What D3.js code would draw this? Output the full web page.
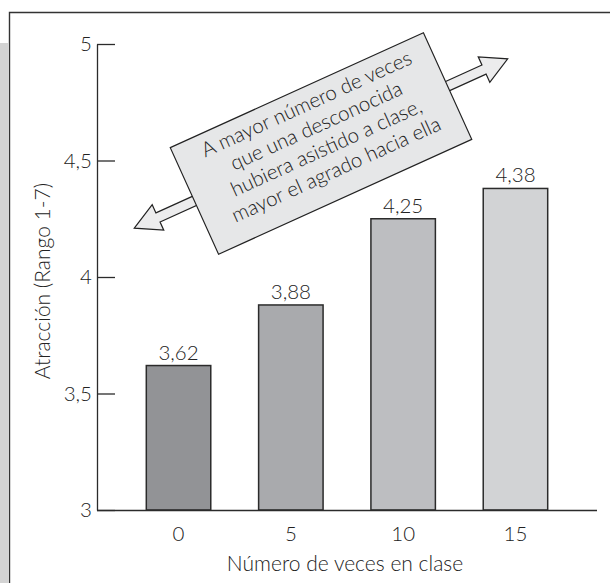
<!DOCTYPE html>
<html>
<head>
<meta charset="utf-8">
<script src="https://cdn.jsdelivr.net/npm/d3@7"></script>
<style>
  body { margin: 0; background: #fff; }
  svg { display: block; }
  text { font-family: Lato, "Open Sans", sans-serif; font-weight: 300; fill: #222; }
</style>
</head>
<body>
<div id="chart"></div>
<script>
// datos
const categories = ["0", "5", "10", "15"];
const values = [3.62, 3.88, 4.25, 4.38];
const valueLabels = ["3,62", "3,88", "4,25", "4,38"];
const barColors = ["#929396", "#a9aaad", "#bdbec1", "#d2d3d5"];
const yTicks = [3, 3.5, 4, 4.5, 5];
const yTickLabels = ["3", "3,5", "4", "4,5", "5"];
const noteLines = [
  "A mayor número de veces",
  "que una desconocida",
  "hubiera asistido a clase,",
  "mayor el agrado hacia ella"
];

const width = 610, height = 583;
const svg = d3.select('#chart').append('svg')
  .attr('width', width)
  .attr('height', height);

// marco de la figura
svg.append('rect')
  .attr('x', 0).attr('y', 43).attr('width', 8).attr('height', height - 43)
  .attr('fill', '#d3d3d3');
svg.append('path')
  .attr('d', `M9.5,${height}V12.5H${width}`)
  .attr('fill', 'none')
  .attr('stroke', '#333')
  .attr('stroke-width', 1.4);

const mLeft = 97, mRight = 597, mTop = 44, mBottom = 510;

const x = d3.scaleBand()
  .domain(categories)
  .range([mLeft, mRight])
  .paddingInner(0.426)
  .paddingOuter(0.439);

const y = d3.scaleLinear()
  .domain([3, 5])
  .range([mBottom, mTop]);

// barras
svg.append('g')
  .selectAll('rect')
  .data(values)
  .join('rect')
  .attr('x', (d, i) => x(categories[i]))
  .attr('y', d => y(d))
  .attr('width', x.bandwidth())
  .attr('height', d => y(3) - y(d))
  .attr('fill', (d, i) => barColors[i])
  .attr('stroke', '#2b2b2b')
  .attr('stroke-width', 1.5);

svg.append('g')
  .selectAll('text')
  .data(values)
  .join('text')
  .attr('x', (d, i) => x(categories[i]) + x.bandwidth() / 2)
  .attr('y', d => y(d) - 6)
  .attr('text-anchor', 'middle')
  .attr('font-size', 20.5)
  .text((d, i) => valueLabels[i]);

// eje y
const yAxis = svg.append('g')
  .attr('transform', `translate(${mLeft},0)`)
  .call(d3.axisLeft(y)
    .tickValues(yTicks)
    .tickFormat((d, i) => yTickLabels[i])
    .tickSizeInner(-18)
    .tickSizeOuter(0)
    .tickPadding(5));
yAxis.selectAll('path, line').attr('stroke', '#2b2b2b').attr('stroke-width', 1.3);
yAxis.selectAll('text').attr('font-size', 20.5).attr('fill', '#222')
  .style('font-family', 'Lato, sans-serif').style('font-weight', 300);

// eje x
const xAxis = svg.append('g')
  .attr('transform', `translate(0,${mBottom})`)
  .call(d3.axisBottom(x).tickSize(0).tickSizeOuter(0).tickPadding(16));
xAxis.select('.domain').attr('d', `M${mLeft},0.5H${mRight}`)
  .attr('stroke', '#2b2b2b').attr('stroke-width', 1.3);
xAxis.selectAll('text').attr('font-size', 20.5).attr('fill', '#222')
  .style('font-family', 'Lato, sans-serif').style('font-weight', 300);

// títulos
svg.append('text')
  .attr('x', (mLeft + mRight) / 2 - 2)
  .attr('y', 571)
  .attr('text-anchor', 'middle')
  .attr('font-size', 21)
  .text('Número de veces en clase');

svg.append('text')
  .attr('transform', `translate(50,${(mTop + mBottom) / 2 + 4}) rotate(-90)`)
  .attr('text-anchor', 'middle')
  .attr('font-size', 21)
  .text('Atracción (Rango 1-7)');

// anotación: flecha doble y recuadro girado
const note = svg.append('g')
  .attr('transform', 'translate(321,143.5) rotate(-24.4)');

const L = 205, head = 26, hw = 14, sw = 5;
note.append('path')
  .attr('d', `M${-L},0 L${-L + head},${-hw} L${-L + head},${-sw} L${L - head},${-sw} L${L - head},${-hw} L${L},0 L${L - head},${hw} L${L - head},${sw} L${-L + head},${sw} L${-L + head},${hw} Z`)
  .attr('fill', '#ececed')
  .attr('stroke', '#222')
  .attr('stroke-width', 1.2)
  .attr('stroke-linejoin', 'miter');

note.append('rect')
  .attr('x', -139).attr('y', -58.5)
  .attr('width', 278).attr('height', 117)
  .attr('fill', '#e6e7e8')
  .attr('stroke', '#222')
  .attr('stroke-width', 1.2);

note.append('g')
  .selectAll('text')
  .data(noteLines)
  .join('text')
  .attr('x', 3)
  .attr('y', (d, i) => -35 + i * 24)
  .attr('text-anchor', 'middle')
  .attr('font-size', 20.5)
  .text(d => d);
</script>
</body>
</html>
